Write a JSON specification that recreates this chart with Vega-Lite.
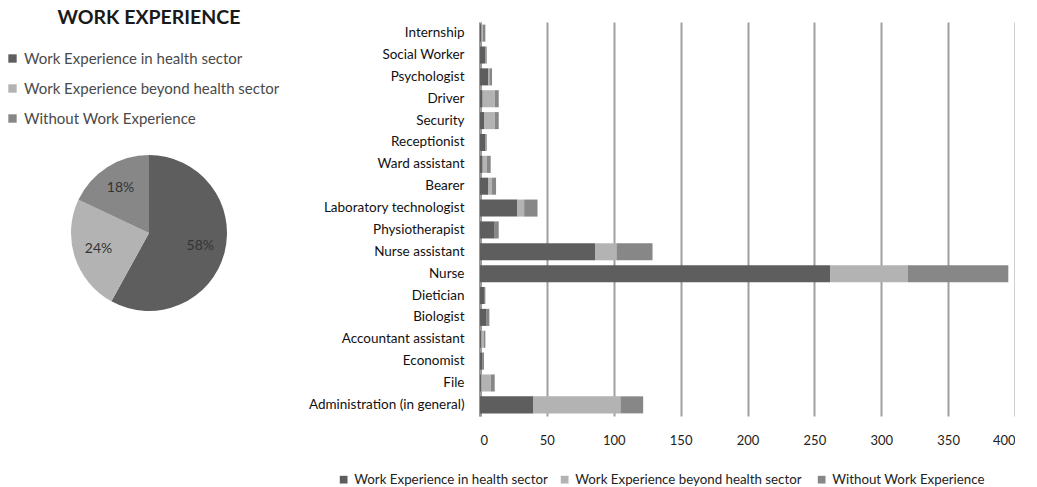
{
  "$schema": "https://vega.github.io/schema/vega-lite/v6.json",
  "padding": {"left": 0, "top": 7, "right": 0, "bottom": 0},
  "background": "white",
  "bounds": "flush",
  "spacing": 182,
  "config": {"font": "Lato", "view": {"stroke": null}},
  "datasets": {
    "pie": [
      {"experience": "Work Experience in health sector", "share": 0.58},
      {"experience": "Work Experience  beyond health sector", "share": 0.24},
      {"experience": "Without Work Experience", "share": 0.18}
    ],
    "jobs": [
      {"job": "Internship", "experience": "Work Experience in health sector", "count": 1},
      {"job": "Internship", "experience": "Work Experience  beyond health sector", "count": 1},
      {"job": "Internship", "experience": "Without Work Experience", "count": 2},
      {"job": "Social Worker", "experience": "Work Experience in health sector", "count": 4},
      {"job": "Social Worker", "experience": "Without Work Experience", "count": 1},
      {"job": "Psychologist", "experience": "Work Experience in health sector", "count": 6},
      {"job": "Psychologist", "experience": "Work Experience  beyond health sector", "count": 1},
      {"job": "Psychologist", "experience": "Without Work Experience", "count": 2},
      {"job": "Driver", "experience": "Work Experience in health sector", "count": 2},
      {"job": "Driver", "experience": "Work Experience  beyond health sector", "count": 9},
      {"job": "Driver", "experience": "Without Work Experience", "count": 3},
      {"job": "Security", "experience": "Work Experience in health sector", "count": 3},
      {"job": "Security", "experience": "Work Experience  beyond health sector", "count": 8},
      {"job": "Security", "experience": "Without Work Experience", "count": 3},
      {"job": "Receptionist", "experience": "Work Experience in health sector", "count": 4},
      {"job": "Receptionist", "experience": "Without Work Experience", "count": 1},
      {"job": "Ward assistant", "experience": "Work Experience in health sector", "count": 2},
      {"job": "Ward assistant", "experience": "Work Experience  beyond health sector", "count": 3},
      {"job": "Ward assistant", "experience": "Without Work Experience", "count": 3},
      {"job": "Bearer", "experience": "Work Experience in health sector", "count": 6},
      {"job": "Bearer", "experience": "Work Experience  beyond health sector", "count": 3},
      {"job": "Bearer", "experience": "Without Work Experience", "count": 3},
      {"job": "Laboratory technologist", "experience": "Work Experience in health sector", "count": 28},
      {"job": "Laboratory technologist", "experience": "Work Experience  beyond health sector", "count": 5},
      {"job": "Laboratory technologist", "experience": "Without Work Experience", "count": 10},
      {"job": "Physiotherapist", "experience": "Work Experience in health sector", "count": 11},
      {"job": "Physiotherapist", "experience": "Without Work Experience", "count": 3},
      {"job": "Nurse assistant", "experience": "Work Experience in health sector", "count": 86},
      {"job": "Nurse assistant", "experience": "Work Experience  beyond health sector", "count": 16},
      {"job": "Nurse assistant", "experience": "Without Work Experience", "count": 27},
      {"job": "Nurse", "experience": "Work Experience in health sector", "count": 262},
      {"job": "Nurse", "experience": "Work Experience  beyond health sector", "count": 58},
      {"job": "Nurse", "experience": "Without Work Experience", "count": 75},
      {"job": "Dietician", "experience": "Work Experience in health sector", "count": 3},
      {"job": "Dietician", "experience": "Without Work Experience", "count": 1},
      {"job": "Biologist", "experience": "Work Experience in health sector", "count": 5},
      {"job": "Biologist", "experience": "Without Work Experience", "count": 2},
      {"job": "Accountant assistant", "experience": "Work Experience in health sector", "count": 1},
      {"job": "Accountant assistant", "experience": "Work Experience  beyond health sector", "count": 2},
      {"job": "Accountant assistant", "experience": "Without Work Experience", "count": 1},
      {"job": "Economist", "experience": "Work Experience in health sector", "count": 2},
      {"job": "Economist", "experience": "Without Work Experience", "count": 1},
      {"job": "File", "experience": "Work Experience in health sector", "count": 1},
      {"job": "File", "experience": "Work Experience  beyond health sector", "count": 7},
      {"job": "File", "experience": "Without Work Experience", "count": 3},
      {"job": "Administration (in general)", "experience": "Work Experience in health sector", "count": 40},
      {"job": "Administration (in general)", "experience": "Work Experience  beyond health sector", "count": 65},
      {"job": "Administration (in general)", "experience": "Without Work Experience", "count": 17}
    ]
  },
  "resolve": {"scale": {"color": "independent"}, "legend": {"color": "independent"}},
  "hconcat": [
    {
      "width": 298,
      "height": 422,
      "data": {"name": "pie"},
      "title": {"text": "WORK EXPERIENCE", "fontSize": 19.5, "fontWeight": "bold", "color": "#1a1a1a", "anchor": "middle", "offset": -6},
      "encoding": {
        "theta": {"field": "share", "type": "quantitative", "stack": true},
        "order": {"field": "share", "type": "quantitative", "sort": "descending"}
      },
      "layer": [
        {
          "mark": {"type": "arc", "outerRadius": 78},
          "encoding": {
            "color": {
              "field": "experience",
              "type": "nominal",
              "sort": ["Work Experience in health sector", "Work Experience  beyond health sector", "Without Work Experience"],
              "scale": {
                "domain": ["Work Experience in health sector", "Work Experience  beyond health sector", "Without Work Experience"],
                "range": ["#5e5e5e", "#b3b3b3", "#878787"]
              },
              "legend": {
                "title": null,
                "orient": "none",
                "legendX": 5,
                "legendY": 29,
                "symbolType": "square",
                "symbolSize": 70,
                "symbolStrokeWidth": 0,
                "labelFontSize": 15,
                "labelColor": "#4a4a4a",
                "labelLimit": 400,
                "rowPadding": 14
              }
            }
          }
        },
        {
          "mark": {"type": "text", "radius": 53, "fontSize": 14, "color": "#333"},
          "encoding": {
            "text": {"field": "share", "type": "quantitative", "format": ".0%"}
          }
        }
      ]
    },
    {
      "width": 535,
      "height": 394,
      "data": {"name": "jobs"},
      "mark": {"type": "bar"},
      "encoding": {
        "y": {
          "field": "job",
          "type": "nominal",
          "sort": ["Internship", "Social Worker", "Psychologist", "Driver", "Security", "Receptionist", "Ward assistant", "Bearer", "Laboratory technologist", "Physiotherapist", "Nurse assistant", "Nurse", "Dietician", "Biologist", "Accountant assistant", "Economist", "File", "Administration (in general)"],
          "scale": {"paddingInner": 0.22, "paddingOuter": 0.12},
          "axis": {
            "title": null,
            "domain": true,
            "domainColor": "#999",
            "domainWidth": 3,
            "ticks": false,
            "labelFontSize": 13.5,
            "labelColor": "#111",
            "labelPadding": 16,
            "labelLimit": 300
          }
        },
        "x": {
          "aggregate": "sum",
          "field": "count",
          "type": "quantitative",
          "stack": "zero",
          "scale": {"domain": [0, 400], "nice": false},
          "axis": {
            "title": null,
            "values": [0, 50, 100, 150, 200, 250, 300, 350, 400],
            "grid": true,
            "gridColor": "#a0a0a0",
            "gridWidth": 2,
            "domain": false,
            "ticks": false,
            "labelFontSize": 13,
            "labelColor": "#222",
            "labelPadding": 18
          }
        },
        "order": {"field": "experience", "type": "nominal", "sort": "descending"},
        "color": {
          "field": "experience",
          "type": "nominal",
          "sort": ["Work Experience in health sector", "Work Experience  beyond health sector", "Without Work Experience"],
          "scale": {
            "domain": ["Work Experience in health sector", "Work Experience  beyond health sector", "Without Work Experience"],
            "range": ["#5e5e5e", "#b3b3b3", "#878787"]
          },
          "legend": {
            "title": null,
            "orient": "none",
            "direction": "horizontal",
            "legendX": -143,
            "legendY": 451,
            "symbolType": "square",
            "symbolSize": 60,
            "symbolStrokeWidth": 0,
            "labelFontSize": 13.3,
            "labelColor": "#222",
            "labelLimit": 400,
            "columnPadding": 10
          }
        }
      }
    }
  ]
}
